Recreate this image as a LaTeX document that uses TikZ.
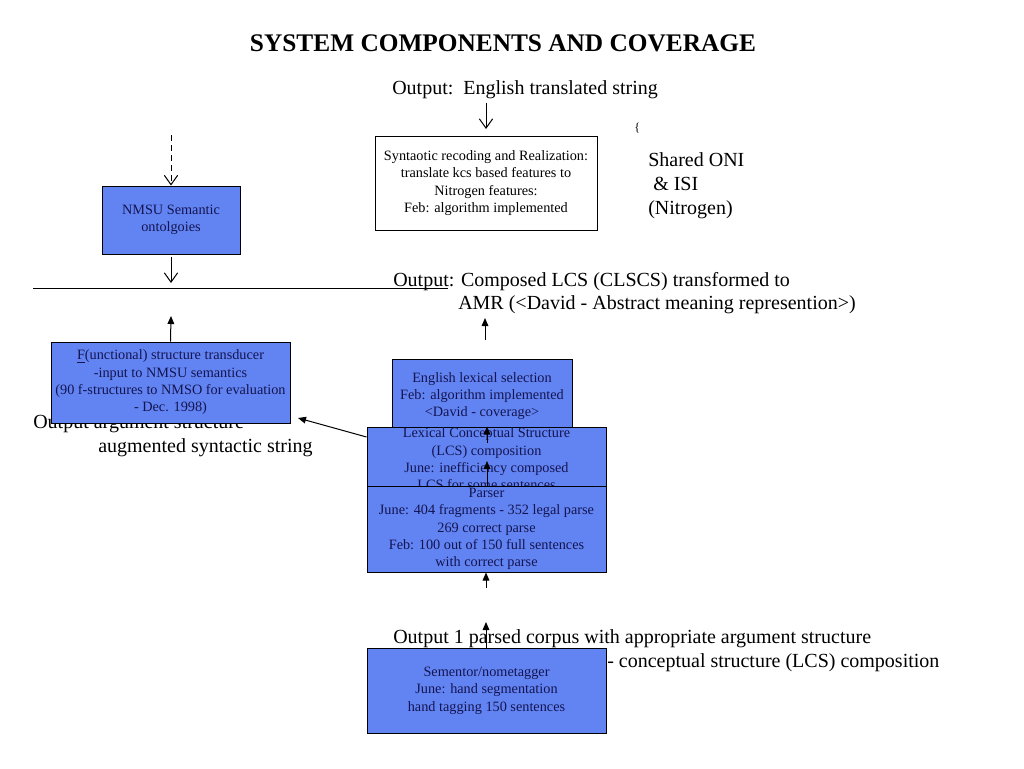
\documentclass[tikz,border=0pt]{standalone}
\usepackage{fontspec}
\setmainfont{Liberation Serif}
\usetikzlibrary{arrows.meta}
\definecolor{boxblue}{RGB}{98,132,242}
\definecolor{boxtext}{RGB}{20,20,80}
\begin{document}
\begin{tikzpicture}[x=0.75pt,y=-0.75pt,
  bluebox/.style={draw=black,line width=0.75pt,fill=boxblue,text=boxtext,align=center,inner sep=0pt,
    font=\fontsize{10.7pt}{13pt}\selectfont},
  whitebox/.style={draw=black,line width=0.75pt,fill=white,align=center,inner sep=0pt,
    font=\fontsize{10.7pt}{13pt}\selectfont},
  maintext/.style={anchor=base west,inner sep=0pt,font=\fontsize{15pt}{17.5pt}\selectfont},
  oarrow/.style={line width=0.75pt,-{Straight Barb[length=7pt,width=10pt]}},
  sarrow/.style={line width=0.75pt,-{Triangle[length=6pt,width=5pt]}}]
\useasboundingbox[fill=white] (0,0) rectangle (1024,768);

% title
\node[anchor=base,inner sep=0pt,font=\bfseries\fontsize{19pt}{21pt}\selectfont] (title) at (503,51) {SYSTEM COMPONENTS AND COVERAGE};

% top output
\node[maintext] (out1) at (392,94) {Output:\ \ English translated string};
\coordinate (a1s) at (486,103);
\coordinate (a1e) at (486,129);
\draw[oarrow] (a1s) -- (a1e);

\node[anchor=base west,inner sep=0pt,font=\fontsize{9pt}{10pt}\selectfont] (brace) at (634,131) {\{};

\node[whitebox,minimum width=166.5pt,minimum height=70.5pt] (syn) at (486,183)
  {Syntaotic recoding and Realization:\\translate kcs based features to\\Nitrogen features:\\Feb: algorithm implemented};

\node[maintext] (sh1) at (648,166) {Shared ONI};
\node[maintext] (sh2) at (648,190) {\ \& ISI};
\node[maintext] (sh3) at (648,214) {(Nitrogen)};

% NMSU
\coordinate (d1) at (171,135);
\node[bluebox,minimum width=103.5pt,minimum height=51pt] (nmsu) at (171,220) {NMSU Semantic\\ontolgoies};
\draw[oarrow,dash pattern=on 4.5pt off 3pt] (d1) -- (nmsu.north);
\coordinate (n2) at (171,283);
\draw[oarrow] ([yshift=-1.5pt]nmsu.south) -- (n2);

% horizontal line / underline
\coordinate (hl) at (33,288);
\coordinate (hr) at (448,288);
\draw[line width=0.75pt] (hl) -- (hr);

\node[maintext] (out2) at (393,286) {Output: Composed LCS (CLSCS) transformed to};
\node[maintext] (out2b) at (458,309) {AMR (<David - Abstract meaning represention>)};

% left output text (partly hidden)
\node[maintext] (out3) at (33,428) {Output argument structure};
\node[maintext] (out3b) at (98,452) {augmented syntactic string};

% F box
\node[bluebox,minimum width=179.25pt,minimum height=60.75pt] (fbox) at (170.5,382.5)
  {\underline{F}(unctional) structure transducer\\-input to NMSU semantics\\(90 f-structures to NMSO for evaluation\\- Dec. 1998)};
\coordinate (f1) at (171,316);
\draw[sarrow] (fbox.north) -- (f1);

\coordinate (e0) at (485,340);
\coordinate (e1) at (485,318);
\draw[sarrow] (e0) -- (e1);

% stacked boxes
\node[bluebox,minimum width=135pt,minimum height=55.5pt] (eng) at (482,396)
  {English lexical selection\\Feb: algorithm implemented\\<David - coverage>};
\node[bluebox,minimum width=179.25pt,minimum height=48pt] (lcs) at (486.5,459)
  {Lexical Conceptual Structure\\(LCS) composition\\June: inefficiency composed\\LCS for some sentences};
\node[bluebox,minimum width=179.25pt,minimum height=64.5pt] (parser) at (486.5,529)
  {Parser\\June: 404 fragments - 352 legal parse\\269 correct parse\\Feb: 100 out of 150 full sentences\\with correct parse};

\coordinate (l1) at (487,443);
\draw[sarrow] (l1) -- (lcs.north -| l1);
\coordinate (p1) at (487,461);
\draw[sarrow] (parser.north -| p1) -- (p1);

\coordinate (lt) at (298,418);
\draw[sarrow] (lcs.west |- 0,437) -- (lt);

\coordinate (q1) at (486,588);
\draw[sarrow] (q1) -- (parser.south -| q1);

% bottom output
\node[maintext] (out4) at (393,643) {Output 1 parsed corpus with appropriate argument structure};
\node[maintext] (out4b) at (607,667) {- conceptual structure (LCS) composition};

\node[bluebox,minimum width=179.25pt,minimum height=63.75pt] (sem) at (486.5,690.5)
  {Sementor/nometagger\\June: hand segmentation\\hand tagging 150 sentences};
\coordinate (s1) at (486,622);
\draw[sarrow] (sem.north -| s1) -- (s1);
\end{tikzpicture}
\end{document}
